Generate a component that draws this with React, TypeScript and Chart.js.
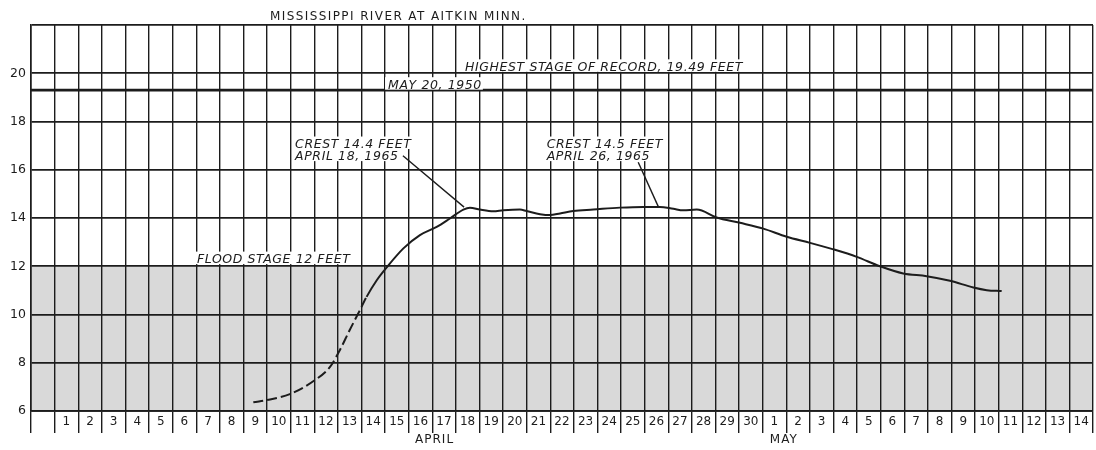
import React, { useEffect, useRef } from 'react';
import { Chart, registerables } from 'chart.js';

Chart.register(...registerables);

// Column labels: blank first column, April 1-30, May 1-14
const dayLabels = [
  '',
  '1', '2', '3', '4', '5', '6', '7', '8', '9', '10',
  '11', '12', '13', '14', '15', '16', '17', '18', '19', '20',
  '21', '22', '23', '24', '25', '26', '27', '28', '29', '30',
  '1', '2', '3', '4', '5', '6', '7', '8', '9', '10',
  '11', '12', '13', '14',
];
const monthLabels = ['APRIL', 'MAY'];
const monthAt = [16.6, 31.4];

const yTicks = [6, 8, 10, 12, 14, 16, 18, 20];
const yMin = 6;
const yMax = 22;

// River stage (feet), x = column index (April d -> d, May d -> 30 + d)
const stageX = [
  8.92, 9.63, 10.47, 11.53, 12.17, 12.59, 13.0, 13.37, 13.72, 14.15,
  14.57, 15.28, 15.98, 16.69, 17.25, 17.82, 18.1, 18.52, 19.09, 19.51,
  20.22, 20.5, 21.07, 21.49, 21.92, 22.48, 23.33, 24.46, 25.45, 26.15,
  26.72, 27.14, 27.71, 28.55, 29.54, 30.53, 31.52, 32.51, 33.5, 34.49,
  35.47, 36.46, 37.45, 38.44, 39.43, 40.0, 40.63,
];
const stageY = [
  6.36, 6.48, 6.7, 7.28, 7.83, 8.53, 9.35, 10.05, 10.73, 11.42,
  11.95, 12.74, 13.29, 13.63, 13.98, 14.35, 14.43, 14.35, 14.28, 14.32,
  14.35, 14.29, 14.16, 14.12, 14.19, 14.29, 14.35, 14.43, 14.46, 14.46,
  14.38, 14.32, 14.35, 14.02, 13.8, 13.56, 13.22, 12.97, 12.7, 12.39,
  12.0, 11.7, 11.59, 11.4, 11.12, 11.01, 10.97,
];
const dashedUntilIndex = 8; // estimated (dashed) part of the hydrograph

const floodStage = 12;
const recordStage = 19.3; // line as drawn on the chart
const recordX = [-0.5, 44.5];

const titleText = 'MISSISSIPPI RIVER AT AITKIN MINN.';
const titleAt = [9.63, 22.19];

const noteTexts = [
  'HIGHEST STAGE OF RECORD, 19.49 FEET',
  'MAY 20, 1950',
  'CREST 14.4 FEET',
  'APRIL 18, 1965',
  'CREST 14.5 FEET',
  'APRIL 26, 1965',
  'FLOOD STAGE 12 FEET',
];
const noteX = [17.89, 14.63, 10.69, 10.69, 21.35, 21.35, 6.53];
const noteY = [20.1, 19.36, 16.9, 16.4, 16.9, 16.4, 12.13];

const leaderFrom = [[15.26, 16.58], [25.23, 16.31]];
const leaderTo = [[17.85, 14.45], [26.08, 14.47]];

const INK = '#1c1c1c';
const BAND = '#d9d9d9';
const FONT = "'DejaVu Sans'";

const bandPlugin = {
  id: 'floodBand',
  beforeDraw(chart: any) {
    const { ctx, chartArea, scales } = chart;
    const y = scales.y;
    const top = y.getPixelForValue(floodStage);
    const bottom = y.getPixelForValue(yMin);
    ctx.save();
    ctx.fillStyle = BAND;
    ctx.fillRect(chartArea.left, top, chartArea.right - chartArea.left, bottom - top);
    ctx.restore();
  },
};

const notesPlugin = {
  id: 'notes',
  afterDraw(chart: any) {
    const { ctx, scales, chartArea } = chart;
    const xs = scales.x;
    const ys = scales.y;
    ctx.save();
    // title
    ctx.fillStyle = INK;
    ctx.font = `12px ${FONT}`;
    (ctx as any).letterSpacing = '1.4px';
    ctx.textAlign = 'left';
    ctx.textBaseline = 'alphabetic';
    ctx.fillText(titleText, xs.getPixelForValue(titleAt[0]), ys.getPixelForValue(titleAt[1]));

    // notes with white background
    ctx.font = `oblique 12.5px ${FONT}`;
    (ctx as any).letterSpacing = '0.6px';
    noteTexts.forEach((t, i) => {
      const px = xs.getPixelForValue(noteX[i]);
      const py = ys.getPixelForValue(noteY[i]);
      const w = ctx.measureText(t).width;
      ctx.fillStyle = '#ffffff';
      ctx.fillRect(px - 3, py - 11.5, w + 4, 12.5);
      ctx.fillStyle = INK;
      ctx.fillText(t, px, py);
    });

    // leader lines
    ctx.strokeStyle = INK;
    ctx.lineWidth = 1.4;
    leaderFrom.forEach((f, i) => {
      const t = leaderTo[i];
      ctx.beginPath();
      ctx.moveTo(xs.getPixelForValue(f[0]), ys.getPixelForValue(f[1]));
      ctx.lineTo(xs.getPixelForValue(t[0]), ys.getPixelForValue(t[1]));
      ctx.stroke();
    });

    // month labels
    ctx.font = `12px ${FONT}`;
    (ctx as any).letterSpacing = '1px';
    ctx.textAlign = 'center';
    ctx.textBaseline = 'middle';
    ctx.fillStyle = INK;
    monthLabels.forEach((m, i) => {
      ctx.fillText(m, xs.getPixelForValue(monthAt[i]), chartArea.bottom + 29);
    });
    (ctx as any).letterSpacing = '0px';
    ctx.restore();
  },
};

export default function App() {
  const canvasRef = useRef<HTMLCanvasElement | null>(null);

  useEffect(() => {
    const canvas = canvasRef.current;
    if (!canvas) return;
    const stage = stageX.map((x, i) => ({ x, y: stageY[i] }));
    const record = recordX.map((x) => ({ x, y: recordStage }));

    const chart = new Chart(canvas, {
      type: 'line',
      data: {
        datasets: [
          {
            data: record,
            borderColor: INK,
            borderWidth: 2.6,
            pointRadius: 0,
            fill: false,
          },
          {
            data: stage,
            borderColor: INK,
            borderWidth: 2,
            pointRadius: 0,
            fill: false,
            cubicInterpolationMode: 'monotone',
            borderDash: [],
            segment: {
              borderDash: (ctx: any) => (ctx.p1DataIndex <= dashedUntilIndex ? [10, 4] : undefined),
            },
          } as any,
        ],
      },
      options: {
        animation: false,
        responsive: true,
        maintainAspectRatio: false,
        layout: { padding: { top: 25, right: 3, left: 0, bottom: 0 } },
        plugins: {
          legend: { display: false },
          tooltip: { enabled: false },
          title: { display: false },
        },
        scales: {
          x: {
            type: 'linear',
            min: -0.5,
            max: 44.5,
            afterBuildTicks: (scale: any) => {
              scale.ticks = dayLabels.map((_, i) => ({ value: i }));
            },
            afterFit: (scale: any) => {
              scale.height = 39;
            },
            grid: {
              offset: true,
              color: INK,
              lineWidth: 1.4,
              drawTicks: true,
              tickLength: 22,
              tickColor: INK,
            },
            border: { display: true, color: INK, width: 1.8 },
            ticks: {
              autoSkip: false,
              maxRotation: 0,
              minRotation: 0,
              padding: -18,
              color: INK,
              font: { family: 'DejaVu Sans', size: 12 },
              callback: (v: any) => dayLabels[Math.round(Number(v))] ?? '',
            },
          },
          y: {
            type: 'linear',
            min: yMin,
            max: yMax,
            afterBuildTicks: (scale: any) => {
              scale.ticks = [...yTicks, yMax].map((v) => ({ value: v }));
            },
            afterFit: (scale: any) => {
              scale.width = 31;
            },
            grid: {
              color: INK,
              lineWidth: 1.7,
              drawTicks: false,
            },
            border: { display: true, color: INK, width: 1.6 },
            ticks: {
              padding: 5,
              color: INK,
              font: { family: 'DejaVu Sans', size: 12.5 },
              callback: (v: any) => (Number(v) === yMax ? '' : String(v)),
            },
          },
        },
      },
      plugins: [bandPlugin, notesPlugin],
    });

    return () => {
      chart.destroy();
    };
  }, []);

  return (
    <div style={{ position: 'fixed', top: 0, left: 0, width: 1096, height: 450, background: '#fff' }}>
      <canvas ref={canvasRef} />
    </div>
  );
}
